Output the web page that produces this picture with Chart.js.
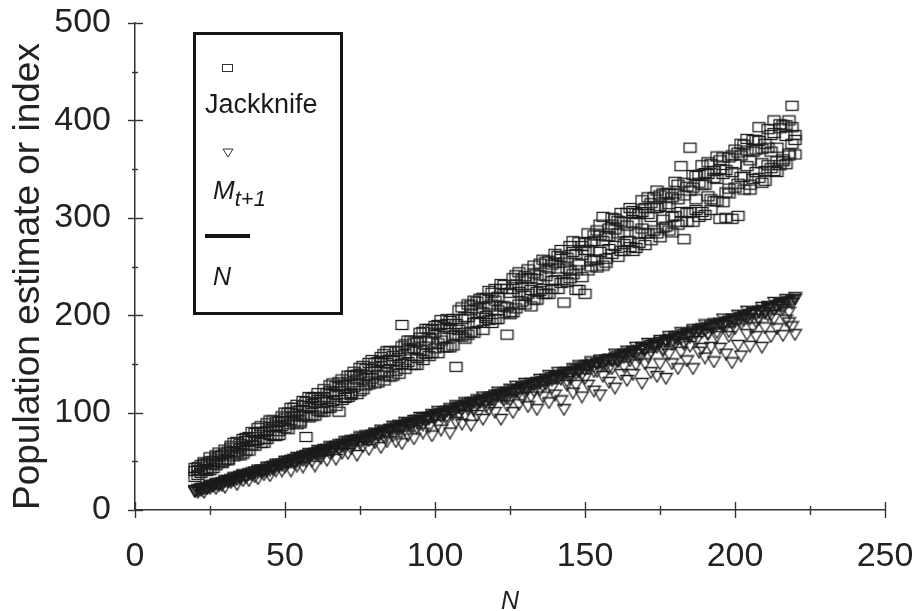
<!DOCTYPE html>
<html>
<head>
<meta charset="utf-8">
<script src="https://cdn.jsdelivr.net/npm/chart.js@4.4.1/dist/chart.umd.min.js"></script>
<style>
html,body{margin:0;padding:0;background:#fff;}
#wrap{position:relative;width:912px;height:611px;overflow:hidden;}
canvas{display:block;}
#legend{position:absolute;left:193px;top:32px;width:144px;height:277px;border:3px solid #151515;
  font-family:'Liberation Sans',Arial,Helvetica,sans-serif;color:#1a1a1a;}
#legend .it{position:absolute;white-space:nowrap;}
#lg-sq{left:26px;top:29px;width:9px;height:6px;border:1px solid #333;}
#lg-jk{left:9px;top:56px;font-size:27px;line-height:27px;}
#lg-tri{left:26px;top:113px;}
#lg-m{left:17px;top:142px;font-size:26px;line-height:26px;font-style:italic;}
#lg-m sub{font-size:22px;vertical-align:baseline;position:relative;top:7px;}
#lg-line{left:9px;top:199px;width:45px;height:4px;background:#151515;}
#lg-n{left:17px;top:229px;font-size:25px;line-height:25px;font-style:italic;}
</style>
</head>
<body>
<div id="wrap">
<canvas id="c" width="912" height="611"></canvas>
<div id="legend">
  <div class="it" id="lg-sq"></div>
  <div class="it" id="lg-jk">Jackknife</div>
  <svg class="it" id="lg-tri" width="12" height="10" viewBox="0 0 12 10"><path d="M1,1 L11,1 L6,9 Z" fill="none" stroke="#333" stroke-width="1"/></svg>
  <div class="it" id="lg-m">M<sub>t+1</sub></div>
  <div class="it" id="lg-line"></div>
  <div class="it" id="lg-n">N</div>
</div>
</div>
<script>
// True population size N (x values)
const nValues = [
 20,21,22,23,24,25,26,27,28,29,
 30,31,32,33,34,35,36,37,38,39,
 40,41,42,43,44,45,46,47,48,49,
 50,51,52,53,54,55,56,57,58,59,
 60,61,62,63,64,65,66,67,68,69,
 70,71,72,73,74,75,76,77,78,79,
 80,81,82,83,84,85,86,87,88,89,
 90,91,92,93,94,95,96,97,98,99,
 100,101,102,103,104,105,106,107,108,109,
 110,111,112,113,114,115,116,117,118,119,
 120,121,122,123,124,125,126,127,128,129,
 130,131,132,133,134,135,136,137,138,139,
 140,141,142,143,144,145,146,147,148,149,
 150,151,152,153,154,155,156,157,158,159,
 160,161,162,163,164,165,166,167,168,169,
 170,171,172,173,174,175,176,177,178,179,
 180,181,182,183,184,185,186,187,188,189,
 190,191,192,193,194,195,196,197,198,199,
 200,201,202,203,204,205,206,207,208,209,
 210,211,212,213,214,215,216,217,218,219,
 220];

// Jackknife estimates (three replicate sets)
const jackA = [
 40,36,46,42,48,41,50,56,49,56,
 51,60,66,59,57,68,66,61,75,72,
 79,72,69,80,89,77,85,76,91,96,
 84,100,92,105,88,102,96,111,105,97,
 116,102,113,101,120,128,112,118,131,113,
 128,116,138,126,119,140,135,128,151,135,
 130,152,142,160,141,154,138,163,156,150,
 170,152,164,149,172,164,183,160,177,172,
 166,190,174,188,167,186,196,180,205,178,
 198,180,205,192,214,192,203,217,195,211,
 196,219,209,231,208,223,203,231,224,214,
 240,222,238,216,237,253,227,240,222,252,
 236,261,233,254,248,271,242,263,252,271,
 267,246,275,257,287,265,251,281,289,263,
 271,297,266,285,305,276,295,269,304,289,
 310,284,301,321,284,312,298,325,287,321,
 302,334,296,323,332,306,344,319,336,306,
 346,322,355,317,340,350,316,349,330,364,
 331,367,342,375,353,334,368,347,379,356,
 376,354,385,348,372,392,358,384,366,393,
 365];
const jackB = [
 34,44,40,49,42,50,43,52,59,49,
 62,51,60,69,60,56,73,71,61,80,
 66,84,80,69,81,92,76,90,77,91,
 100,83,100,90,108,91,107,75,116,109,
 97,113,101,124,111,105,130,127,101,128,
 115,138,120,142,139,122,148,145,132,154,
 151,131,157,138,163,137,158,149,140,190,
 145,174,149,172,149,182,161,186,158,185,
 189,161,195,167,191,167,179,147,179,208,
 176,211,183,215,193,217,185,197,225,192,
 227,196,232,202,180,201,238,207,244,237,
 211,247,209,243,216,225,257,222,256,227,
 263,227,260,213,234,238,276,226,226,239,
 222,284,250,282,249,293,301,258,281,300,
 299,260,305,266,276,310,266,305,274,318,
 272,321,277,310,328,280,325,291,325,285,
 337,293,353,278,296,372,296,343,301,354,
 303,357,308,348,363,299,362,300,325,299,
 370,302,376,329,381,329,380,370,393,336,
 338,391,351,400,347,396,360,395,364,415,
 385];
const jackC = [
 43,41,38,47,40,54,47,46,55,48,
 58,52,64,55,70,63,58,74,71,67,
 71,80,86,73,73,85,92,87,81,86,
 94,88,105,96,102,89,112,97,95,115,
 110,120,104,116,105,122,119,107,126,134,
 119,131,118,138,134,146,124,138,129,145,
 147,139,153,133,151,163,153,143,163,168,
 160,166,174,166,156,177,154,174,186,161,
 182,171,190,177,196,194,169,191,185,196,
 182,198,210,182,207,202,218,199,209,223,
 215,205,227,209,227,203,227,241,211,229,
 220,238,226,251,224,241,222,255,248,235,
 254,248,267,236,259,246,265,246,275,262,
 274,267,256,276,257,282,276,254,268,293,
 288,284,296,273,292,270,307,295,284,306,
 284,304,315,287,310,323,290,311,314,301,
 325,319,306,336,305,328,331,308,344,334,
 334,345,319,341,317,359,345,326,362,347,
 355,335,364,342,369,359,340,380,341,371,
 348,372,368,387,358,354,395,355,400,376,
 380];

// M(t+1) index (three replicate sets)
const mtA = [
 20,20,22,22,22,25,25,27,26,28,
 30,29,31,33,31,34,36,35,37,36,
 39,41,39,41,44,41,45,47,45,47,
 50,48,51,49,54,53,51,56,58,56,
 58,61,57,62,61,65,60,65,67,65,
 70,68,71,67,72,75,72,76,71,77,
 79,76,82,80,76,83,86,83,87,83,
 90,88,85,92,90,95,87,95,93,98,
 97,101,96,101,96,104,102,107,98,106,
 110,106,110,104,113,111,116,110,115,108,
 118,121,116,120,114,124,121,127,120,125,
 130,124,130,122,130,134,127,134,138,133,
 137,141,134,141,132,140,145,140,148,139,
 148,145,152,142,150,154,148,154,145,154,
 160,152,159,157,163,153,162,167,160,167,
 165,171,162,170,167,174,163,173,178,170,
 178,175,182,172,180,177,185,173,185,182,
 190,181,187,191,182,191,196,189,183,196,
 194,200,191,199,204,196,203,193,203,208,
 202,209,200,213,208,212,206,216,203,215,
 218];
const mtB = [
 19,18,21,18,22,22,25,22,25,25,
 23,29,28,30,26,34,30,33,30,36,
 34,32,40,36,40,35,42,40,47,40,
 44,48,40,48,45,53,44,50,54,50,
 45,56,53,60,51,58,63,52,62,58,
 65,58,63,71,56,68,65,72,62,73,
 69,77,64,75,70,82,76,70,82,68,
 82,76,89,73,84,88,79,92,85,76,
 94,87,82,99,93,79,98,90,105,88,
 97,103,87,102,97,110,93,106,103,113,
 100,117,93,113,107,113,100,121,108,115,
 121,106,116,128,103,123,116,129,110,125,
 118,135,112,103,128,135,120,128,141,116,
 135,128,147,122,142,118,137,148,131,145,
 125,153,139,147,133,158,139,149,156,130,
 150,157,141,168,137,150,165,135,160,150,
 171,145,162,170,153,168,145,180,162,166,
 156,180,167,152,178,166,190,160,178,151,
 186,169,158,195,180,168,187,178,196,167,
 187,200,178,196,186,209,179,195,192,188,
 180];
const mtC = [
 19,21,20,22,23,24,24,26,27,27,
 29,30,30,32,33,32,35,34,36,38,
 38,39,41,40,42,44,43,45,46,46,
 48,50,49,52,51,52,55,53,56,57,
 58,59,60,59,62,62,64,65,63,67,
 67,70,68,70,71,71,74,73,75,75,
 78,78,79,81,80,82,83,85,84,86,
 87,89,88,90,92,91,94,92,95,96,
 96,98,99,98,101,102,101,104,105,103,
 107,109,108,110,109,112,113,111,114,116,
 115,118,119,117,121,120,123,122,124,126,
 125,128,127,129,131,130,132,134,133,136,
 135,137,138,139,141,138,142,144,143,146,
 144,148,149,147,150,152,151,153,155,153,
 156,158,156,160,159,161,163,160,164,166,
 164,167,169,167,170,172,170,174,175,173,
 176,178,176,180,181,179,183,182,184,186,
 184,187,189,187,190,191,189,193,194,192,
 196,195,198,199,197,201,202,200,204,205,
 203,207,208,206,210,211,209,213,214,212,
 216];

// Axis ticks
const xTicks = [0,25,50,75,100,125,150,175,200,225,250];
const yTicks = [0,50,100,150,200,250,300,350,400,450,500];
const xLabels = [0,50,100,150,200,250];
const yLabels = [0,100,200,300,400,500];

const FONT = "'Liberation Sans', Arial, Helvetica, sans-serif";
const INK = '#222';

function makeSquare(){
  const c = document.createElement('canvas'); c.width = 15; c.height = 12;
  const g = c.getContext('2d'); g.strokeStyle = '#1c1c1c'; g.lineWidth = 1.3;
  g.strokeRect(1.5, 1.5, 12, 9); return c;
}
function makeTri(){
  const c = document.createElement('canvas'); c.width = 15; c.height = 13;
  const g = c.getContext('2d'); g.strokeStyle = '#1c1c1c'; g.lineWidth = 1.3;
  g.beginPath(); g.moveTo(1.2,1.5); g.lineTo(13.8,1.5); g.lineTo(7.5,12); g.closePath(); g.stroke(); return c;
}

const pairs = (ys) => nValues.map((n, i) => ({x: n, y: ys[i]}));

const crossTicks = {
  id: 'crossTicks',
  afterDraw(chart){
    const {ctx, scales:{x, y}} = chart;
    ctx.save(); ctx.strokeStyle = '#333'; ctx.lineWidth = 1.4;
    const yb = y.getPixelForValue(0), xl = x.getPixelForValue(0);
    xTicks.forEach(v => {
      const px = Math.round(x.getPixelForValue(v)) + 0.5, major = xLabels.includes(v);
      ctx.beginPath(); ctx.moveTo(px, yb - (major ? 8 : 4)); ctx.lineTo(px, yb + (major ? 8 : 5)); ctx.stroke();
    });
    yTicks.forEach(v => {
      const py = Math.round(y.getPixelForValue(v)) + 0.5, major = yLabels.includes(v);
      ctx.beginPath(); ctx.moveTo(xl - (major ? 7 : 3), py); ctx.lineTo(xl + (major ? 8 : 3), py); ctx.stroke();
    });
    ctx.restore();
  }
};

new Chart(document.getElementById('c'), {
  type: 'scatter',
  data: {
    datasets: [
      {label: 'N', type: 'line', data: nValues.map(n => ({x: n, y: n})), borderColor: '#111', borderWidth: 3.5,
       pointRadius: 0, fill: false, tension: 0, order: 3},
      {label: 'Jackknife', data: pairs(jackA).concat(pairs(jackB), pairs(jackC)), pointStyle: makeSquare(), pointRadius: 6, order: 1},
      {label: 'M t+1', data: pairs(mtA).concat(pairs(mtB), pairs(mtC)), pointStyle: makeTri(), pointRadius: 6, order: 2}
    ]
  },
  options: {
    responsive: false, animation: false, events: [],
    layout: {padding: {top: 23, right: 27, left: 0, bottom: 0}},
    plugins: {legend: {display: false}, tooltip: {enabled: false}},
    scales: {
      x: {
        type: 'linear', min: 0, max: 250, position: 'bottom',
        grid: {display: false, drawTicks: false},
        border: {display: true, color: '#333', width: 1.5},
        afterBuildTicks: s => { s.ticks = xTicks.map(v => ({value: v})); },
        ticks: {autoSkip: false, maxRotation: 0, padding: 26, color: INK, font: {family: FONT, size: 34},
                callback: v => xLabels.includes(v) ? String(v) : ''},
        title: {display: true, text: 'N', color: INK, padding: 0,
                font: {family: FONT, size: 25, style: 'italic', lineHeight: 0.7}},
        afterFit: s => { s.height = 101; s.paddingLeft = 0; s.paddingRight = 0; }
      },
      y: {
        type: 'linear', min: 0, max: 500,
        grid: {display: false, drawTicks: false},
        border: {display: true, color: '#333', width: 1.5},
        afterBuildTicks: s => { s.ticks = yTicks.map(v => ({value: v})); },
        ticks: {autoSkip: false, padding: 24, color: INK, font: {family: FONT, size: 34},
                callback: v => yLabels.includes(v) ? String(v) : ''},
        title: {display: true, text: 'Population estimate or index', color: INK, align: 'start',
                padding: {top: 7, bottom: 0}, font: {family: FONT, size: 37, lineHeight: 1.2}},
        afterFit: s => { s.width = 135; s.paddingTop = 0; s.paddingBottom = 0; }
      }
    }
  },
  plugins: [crossTicks]
});
</script>
</body>
</html>
